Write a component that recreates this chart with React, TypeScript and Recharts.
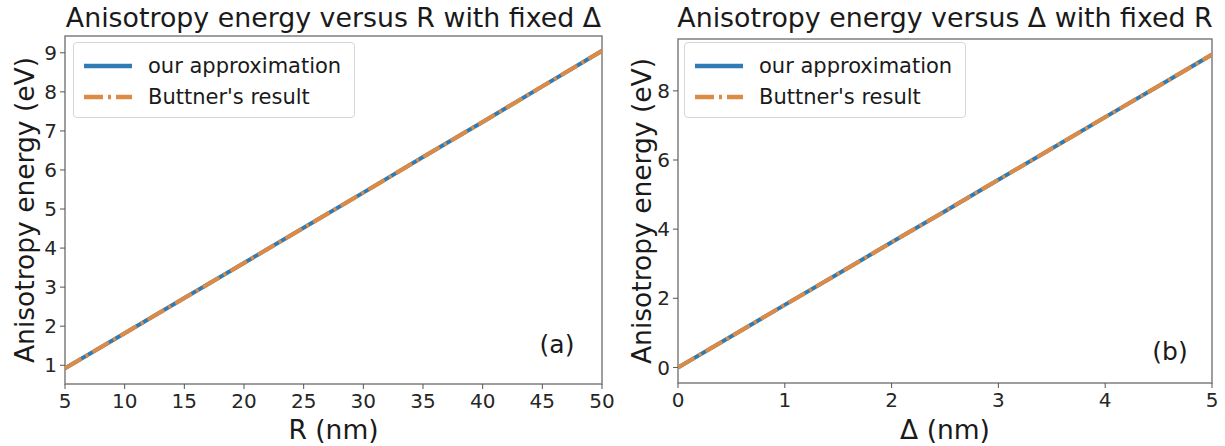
import React from "react";
import {
  LineChart,
  Line,
  XAxis,
  YAxis,
  Legend,
  ReferenceArea,
} from "recharts";

// panel (a): energy vs R, fixed delta
const rValues = [5, 10, 15, 20, 25, 30, 35, 40, 45, 50];
const oursVsR = [0.92, 1.82, 2.72, 3.62, 4.52, 5.42, 6.33, 7.23, 8.14, 9.05];
const buttnerVsR = [0.92, 1.82, 2.72, 3.62, 4.52, 5.42, 6.33, 7.23, 8.14, 9.05];
const rTicks = [5, 10, 15, 20, 25, 30, 35, 40, 45, 50];
const energyTicksA = [1, 2, 3, 4, 5, 6, 7, 8, 9];

// panel (b): energy vs delta, fixed R
const deltaValues = [0, 0.5, 1, 1.5, 2, 2.5, 3, 3.5, 4, 4.5, 5];
const oursVsDelta = [0, 0.9, 1.81, 2.71, 3.62, 4.52, 5.43, 6.33, 7.24, 8.14, 9.05];
const buttnerVsDelta = [0, 0.9, 1.81, 2.71, 3.62, 4.52, 5.43, 6.33, 7.24, 8.14, 9.05];
const deltaTicks = [0, 1, 2, 3, 4, 5];
const energyTicksB = [0, 2, 4, 6, 8];

const BLUE = "#2f7bb5";
const ORANGE = "#dc8a44";
const FONT = "'DejaVu Sans', sans-serif";
const TEXT = "#1a1a1a";
const FRAME = "#7f7f7f";

const dataA = rValues.map((x, i) => ({ x, ours: oursVsR[i], buttner: buttnerVsR[i] }));
const dataB = deltaValues.map((x, i) => ({ x, ours: oursVsDelta[i], buttner: buttnerVsDelta[i] }));

const tickStyle = { fontSize: 20, fill: "#262626", fontFamily: FONT };

function LegendBox() {
  const rows = [
    { label: "our approximation", color: BLUE, dash: undefined },
    { label: "Buttner's result", color: ORANGE, dash: "19 5 3 5" },
  ];
  return (
    <div
      style={{
        width: 282,
        height: 76,
        border: "1px solid #d6d6d6",
        borderRadius: 4,
        background: "rgba(255,255,255,0.85)",
        boxSizing: "border-box",
        paddingTop: 7,
      }}
    >
      {rows.map((r) => (
        <div key={r.label} style={{ display: "flex", alignItems: "center", height: 31 }}>
          <svg width={70} height={10} style={{ marginLeft: 8 }}>
            <line x1={2} y1={5} x2={50} y2={5} stroke={r.color} strokeWidth={4.5} strokeDasharray={r.dash} />
          </svg>
          <span style={{ fontFamily: FONT, fontSize: 21, color: TEXT, marginLeft: -4, whiteSpace: "nowrap" }}>
            {r.label}
          </span>
        </div>
      ))}
    </div>
  );
}

interface PanelProps {
  data: { x: number; ours: number; buttner: number }[];
  left: number;
  width: number;
  top: number;
  bottom: number;
  right: number;
  yAxisWidth: number;
  xDomain: [number, number];
  xTicks: number[];
  yDomain: [number, number];
  yTicks: number[];
  title: string;
  xLabel: string;
  tag: string;
  tagX: number;
  tagY: number;
  yLabelX: number;
  legendLeft: number;
}

function Panel(p: PanelProps) {
  const height = 446;
  const plotLeft = p.yAxisWidth;
  const plotRight = p.width - p.right;
  const plotW = plotRight - plotLeft;
  const plotTop = p.top;
  const plotBottom = height - p.bottom;
  const midY = (plotTop + plotBottom) / 2;

  return (
    <div style={{ position: "absolute", left: p.left, top: 0, width: p.width, height }}>
      <LineChart
        width={p.width}
        height={height}
        data={p.data}
        margin={{ top: p.top, right: p.right, bottom: 0, left: 0 }}
      >
        <XAxis
          dataKey="x"
          type="number"
          domain={p.xDomain}
          ticks={p.xTicks}
          allowDataOverflow
          height={p.bottom}
          tick={tickStyle}
          tickSize={5}
          tickMargin={5}
          tickLine={{ stroke: "#555" }}
          axisLine={false}
        />
        <YAxis
          type="number"
          domain={p.yDomain}
          ticks={p.yTicks}
          allowDataOverflow
          width={p.yAxisWidth}
          tick={tickStyle}
          tickSize={5}
          tickMargin={3}
          tickLine={{ stroke: "#555" }}
          axisLine={false}
        />
        <ReferenceArea
          x1={p.xDomain[0]}
          x2={p.xDomain[1]}
          y1={p.yDomain[0]}
          y2={p.yDomain[1]}
          fill="#fff"
          fillOpacity={0}
          stroke={FRAME}
          strokeWidth={1.5}
        />
        <Line
          type="linear"
          dataKey="ours"
          stroke={BLUE}
          strokeWidth={4}
          dot={false}
          isAnimationActive={false}
        />
        <Line
          type="linear"
          dataKey="buttner"
          stroke={ORANGE}
          strokeWidth={4}
          strokeDasharray="19 5 3 5"
          dot={false}
          isAnimationActive={false}
        />
        <Legend
          layout="vertical"
          align="center"
          verticalAlign="middle"
          wrapperStyle={{ left: p.legendLeft, top: 42, width: 282 }}
          content={() => <LegendBox />}
        />
      </LineChart>

      <div
        style={{
          position: "absolute",
          left: plotLeft - 20,
          width: plotW + 40,
          top: 3,
          lineHeight: "30px",
          textAlign: "center",
          fontFamily: FONT,
          fontSize: 26.8,
          color: TEXT,
          whiteSpace: "nowrap",
        }}
      >
        {p.title}
      </div>
      <div
        style={{
          position: "absolute",
          left: plotLeft,
          width: plotW,
          top: 415,
          lineHeight: "30px",
          textAlign: "center",
          fontFamily: FONT,
          fontSize: 26.5,
          color: TEXT,
        }}
      >
        {p.xLabel}
      </div>
      <div
        style={{
          position: "absolute",
          left: p.yLabelX - 200,
          top: midY - 15,
          width: 400,
          lineHeight: "30px",
          textAlign: "center",
          fontFamily: FONT,
          fontSize: 26.5,
          color: TEXT,
          transform: "rotate(-90deg)",
        }}
      >
        Anisotropy energy (eV)
      </div>
      <div
        style={{
          position: "absolute",
          left: p.tagX - 30,
          top: p.tagY - 15,
          width: 60,
          lineHeight: "30px",
          textAlign: "center",
          fontFamily: FONT,
          fontSize: 25,
          color: TEXT,
        }}
      >
        {p.tag}
      </div>
    </div>
  );
}

export default function App() {
  return (
    <div
      style={{
        position: "absolute",
        left: 0,
        top: 0,
        width: 1225,
        height: 446,
        background: "#fff",
        overflow: "hidden",
      }}
    >
      <Panel
        data={dataA}
        left={0}
        width={625}
        top={36}
        bottom={62}
        right={23}
        yAxisWidth={65}
        xDomain={[5, 50]}
        xTicks={rTicks}
        yDomain={[0.52, 9.43]}
        yTicks={energyTicksA}
        title="Anisotropy energy versus R with fixed Δ"
        xLabel="R (nm)"
        tag="(a)"
        tagX={557}
        tagY={345}
        yLabelX={25}
        legendLeft={73}
      />
      <Panel
        data={dataB}
        left={625}
        width={600}
        top={39}
        bottom={63}
        right={13}
        yAxisWidth={53}
        xDomain={[0, 5]}
        xTicks={deltaTicks}
        yDomain={[-0.45, 9.5]}
        yTicks={energyTicksB}
        title="Anisotropy energy versus Δ with fixed R"
        xLabel="Δ (nm)"
        tag="(b)"
        tagX={545}
        tagY={352}
        yLabelX={17}
        legendLeft={59}
      />
    </div>
  );
}
